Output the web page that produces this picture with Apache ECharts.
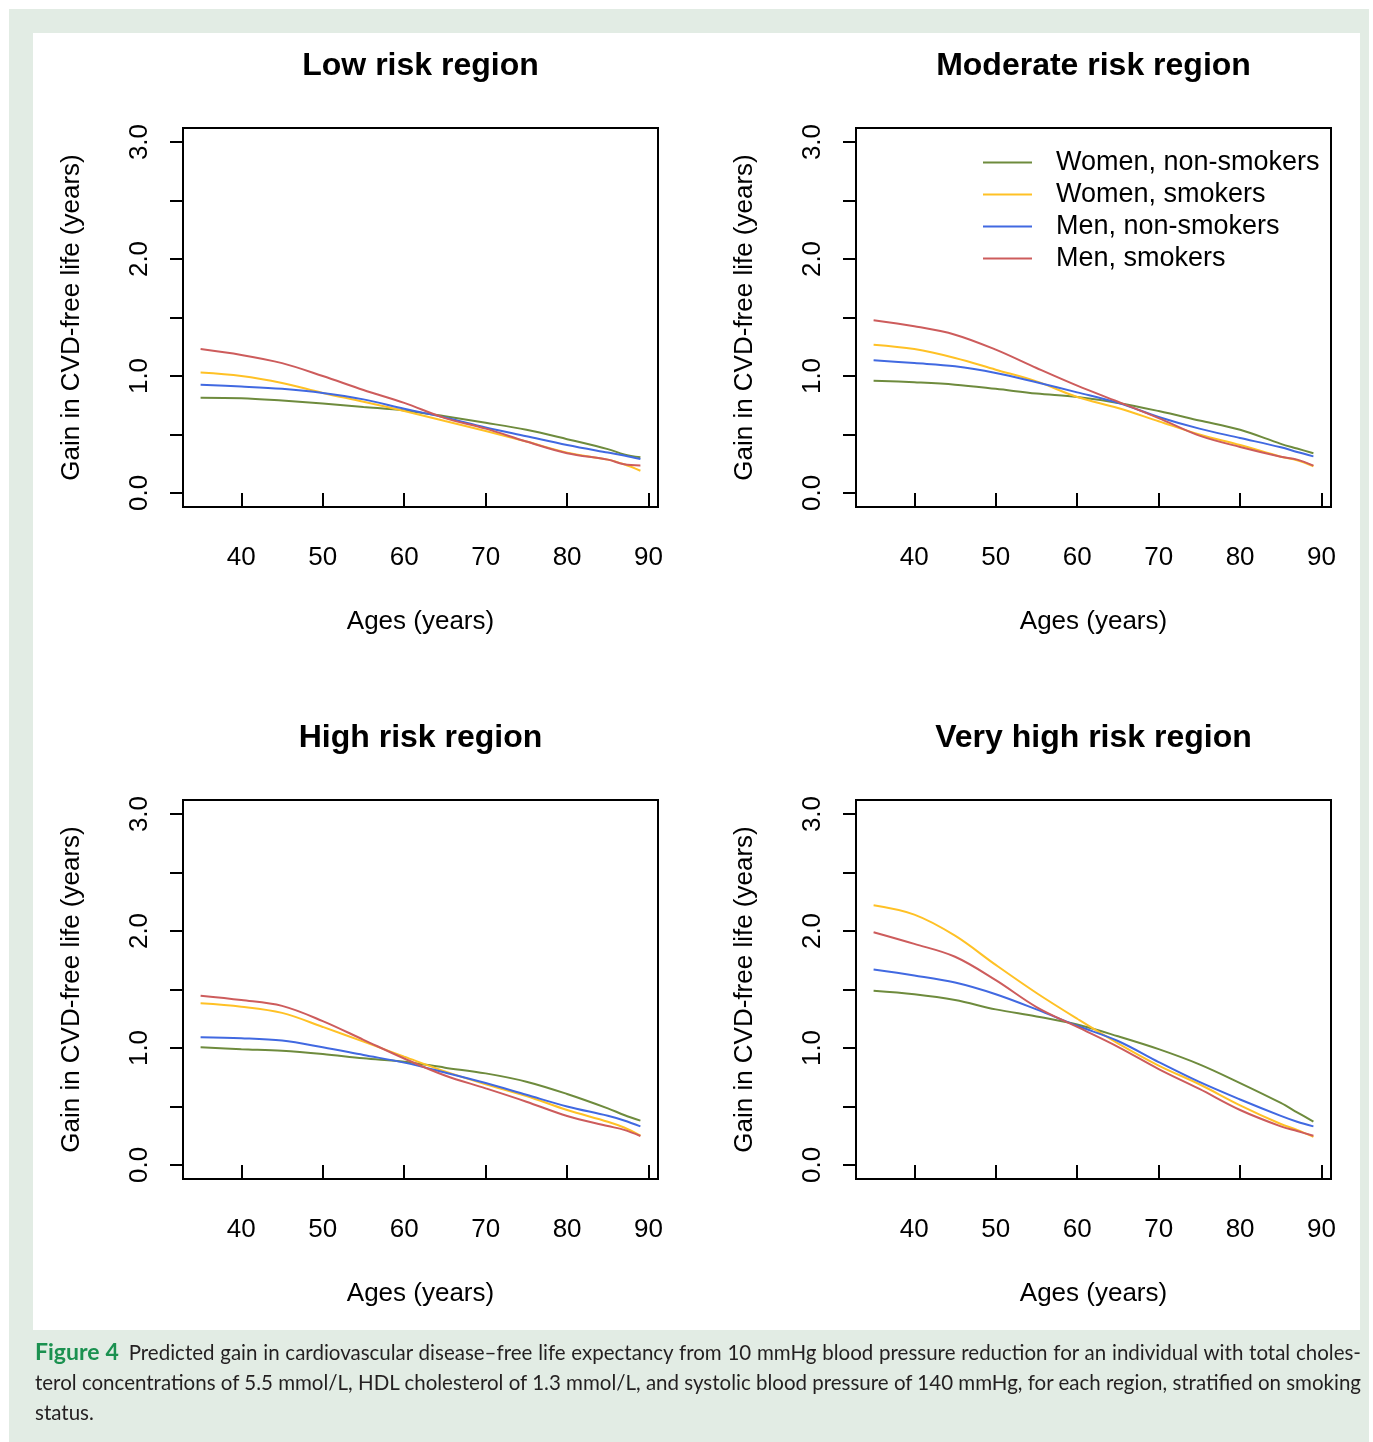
<!DOCTYPE html>
<html><head><meta charset="utf-8">
<script src="https://cdn.jsdelivr.net/npm/echarts@6/dist/echarts.min.js"></script>
<style>
html,body{margin:0;padding:0;background:#fff;}
#wrap{position:relative;width:1373px;height:1442px;overflow:hidden;}
#frame{position:absolute;left:9px;top:9px;width:1360px;height:1433px;background:#e2ece4;}
#panel{position:absolute;left:33px;top:33px;width:1327px;height:1297px;background:#fff;}
#chart{position:absolute;left:0;top:0;width:1373px;height:1442px;}
#cap{position:absolute;left:35px;top:1336px;width:1326px;font-family:Lato,'Open Sans',sans-serif;font-size:20.5px;color:#231f20;line-height:30px;}
#cap div{white-space:nowrap;}
#cap .j{text-align:justify;text-align-last:justify;}
#cap b{color:#1b9150;font-size:23px;font-weight:bold;margin-right:4px;}
</style>
</head><body>
<div id="wrap">
<div id="frame"></div>
<div id="panel"></div>
<div id="chart"></div>
<div id="cap">
<div class="j"><b>Figure 4</b> Predicted gain in cardiovascular disease–free life expectancy from 10 mmHg blood pressure reduction for an individual with total choles-</div>
<div class="j">terol concentrations of 5.5 mmol/L, HDL cholesterol of 1.3 mmol/L, and systolic blood pressure of 140 mmHg, for each region, stratified on smoking</div>
<div>status.</div>
</div>
</div>
<script>
// ---- data ----
const ages = [35, 40, 45, 50, 55, 60, 65, 70, 75, 80, 85, 87, 89];
const seriesNames = ['Women, non-smokers', 'Women, smokers', 'Men, non-smokers', 'Men, smokers'];
const panelTitles = ['Low risk region', 'Moderate risk region', 'High risk region', 'Very high risk region'];
const xTicks = [40, 50, 60, 70, 80, 90];
const yTicks = [0, 0.5, 1, 1.5, 2, 2.5, 3];
const yLabelValues = [0, 1, 2, 3];

const lowWomenNon = [0.815, 0.81, 0.79, 0.765, 0.735, 0.705, 0.655, 0.60, 0.54, 0.46, 0.375, 0.33, 0.305];
const lowWomenSmk = [1.03, 1.00, 0.94, 0.855, 0.78, 0.70, 0.615, 0.53, 0.44, 0.345, 0.285, 0.245, 0.19];
const lowMenNon   = [0.925, 0.91, 0.89, 0.855, 0.80, 0.72, 0.645, 0.56, 0.485, 0.41, 0.345, 0.32, 0.29];
const lowMenSmk   = [1.23, 1.18, 1.11, 1.00, 0.88, 0.77, 0.64, 0.55, 0.44, 0.34, 0.285, 0.245, 0.235];

const modWomenNon = [0.96, 0.946, 0.926, 0.89, 0.85, 0.82, 0.77, 0.70, 0.62, 0.54, 0.42, 0.38, 0.34];
const modWomenSmk = [1.268, 1.23, 1.154, 1.054, 0.954, 0.82, 0.726, 0.613, 0.50, 0.41, 0.31, 0.28, 0.228];
const modMenNon   = [1.134, 1.11, 1.083, 1.026, 0.946, 0.86, 0.77, 0.65, 0.55, 0.47, 0.39, 0.35, 0.313];
const modMenSmk   = [1.476, 1.425, 1.353, 1.225, 1.068, 0.917, 0.78, 0.64, 0.49, 0.393, 0.31, 0.285, 0.234];

const highWomenNon = [1.006, 0.99, 0.977, 0.949, 0.912, 0.883, 0.832, 0.783, 0.712, 0.607, 0.484, 0.427, 0.379];
const highWomenSmk = [1.382, 1.353, 1.30, 1.18, 1.054, 0.926, 0.80, 0.69, 0.59, 0.47, 0.37, 0.32, 0.25];
const highMenNon   = [1.091, 1.083, 1.063, 1.006, 0.94, 0.875, 0.79, 0.70, 0.60, 0.50, 0.42, 0.38, 0.33];
const highMenSmk   = [1.447, 1.41, 1.36, 1.23, 1.07, 0.91, 0.765, 0.655, 0.541, 0.419, 0.333, 0.30, 0.248];

const vhighWomenNon = [1.49, 1.46, 1.41, 1.33, 1.27, 1.20, 1.10, 0.99, 0.86, 0.70, 0.53, 0.45, 0.37];
const vhighWomenSmk = [2.22, 2.14, 1.96, 1.71, 1.47, 1.25, 1.04, 0.85, 0.69, 0.51, 0.35, 0.30, 0.24];
const vhighMenNon   = [1.67, 1.62, 1.56, 1.46, 1.33, 1.19, 1.06, 0.88, 0.71, 0.56, 0.42, 0.37, 0.33];
const vhighMenSmk   = [1.99, 1.89, 1.78, 1.58, 1.35, 1.18, 1.01, 0.82, 0.65, 0.47, 0.33, 0.29, 0.25];

const panels = [
  [lowWomenNon, lowWomenSmk, lowMenNon, lowMenSmk],
  [modWomenNon, modWomenSmk, modMenNon, modMenSmk],
  [highWomenNon, highWomenSmk, highMenNon, highMenSmk],
  [vhighWomenNon, vhighWomenSmk, vhighMenNon, vhighMenSmk]
];

// ---- styling / layout ----
const colors = ['#6E8B3D', '#FFC125', '#4169E1', '#CD5C5C'];
const FONT = '"Liberation Sans", Arial, Helvetica, sans-serif';
const gridPos = [
  {left: 183, top: 128}, {left: 856, top: 128},
  {left: 183, top: 800}, {left: 856, top: 800}
];
const GW = 475, GH = 379;

const chart = echarts.init(document.getElementById('chart'), null, {renderer: 'canvas'});

const grids = gridPos.map(p => ({
  left: p.left, top: p.top, width: GW, height: GH,
  show: true, borderColor: '#000', borderWidth: 2, backgroundColor: 'transparent',
  containLabel: false
}));

const xAxes = gridPos.map((p, i) => ({
  type: 'value', gridIndex: i, min: 32.84, max: 91.16,
  name: 'Ages (years)', nameLocation: 'middle', nameGap: 102,
  nameTextStyle: {fontSize: 26, fontFamily: FONT, color: '#000'},
  axisLine: {show: false},
  splitLine: {show: false},
  axisTick: {show: true, inside: false, length: 13, customValues: xTicks, lineStyle: {color: '#000', width: 2}},
  axisLabel: {show: true, customValues: xTicks, fontSize: 26, fontFamily: FONT, color: '#000', margin: 38}
}));

const yAxes = gridPos.map((p, i) => ({
  type: 'value', gridIndex: i, min: -0.12, max: 3.12,
  name: 'Gain in CVD-free life (years)', nameLocation: 'middle', nameGap: 98,
  nameTextStyle: {fontSize: 26, fontFamily: FONT, color: '#000'},
  axisLine: {show: false},
  splitLine: {show: false},
  axisTick: {show: true, inside: false, length: 13, customValues: yTicks, lineStyle: {color: '#000', width: 2}},
  axisLabel: {show: true, customValues: yLabelValues, rotate: 90, fontSize: 26, fontFamily: FONT, color: '#000', margin: 30,
    formatter: v => Number(v).toFixed(1)}
}));

const series = [];
panels.forEach((vals, pi) => {
  vals.forEach((arr, si) => {
    series.push({
      type: 'line', name: seriesNames[si], xAxisIndex: pi, yAxisIndex: pi,
      data: ages.map((a, k) => [a, arr[k]]),
      smooth: 0.35, symbol: 'none', showSymbol: false,
      lineStyle: {color: colors[si], width: 2},
      itemStyle: {color: colors[si]},
      z: 3 + si
    });
  });
});

const titleCenters = gridPos.map(p => [p.left + GW / 2, p.top - 62]);

chart.setOption({
  animation: false,
  backgroundColor: 'transparent',
  grid: grids,
  xAxis: xAxes,
  yAxis: yAxes,
  series: series,
  legend: {
    data: seriesNames, orient: 'vertical', left: 983, top: 149, padding: 0,
    itemWidth: 49, itemHeight: 2, icon: 'rect', itemGap: 5,
    selectedMode: false,
    textStyle: {fontSize: 27, fontFamily: FONT, color: '#000', lineHeight: 27, padding: [0, 0, 0, 19]}
  },
  graphic: panelTitles.map((t, i) => ({
    type: 'text', x: titleCenters[i][0], y: titleCenters[i][1],
    style: {text: t, fontSize: 32, fontWeight: 'bold', fontFamily: FONT, fill: '#000',
      align: 'center', verticalAlign: 'middle'}
  }))
});
</script>
</body></html>
